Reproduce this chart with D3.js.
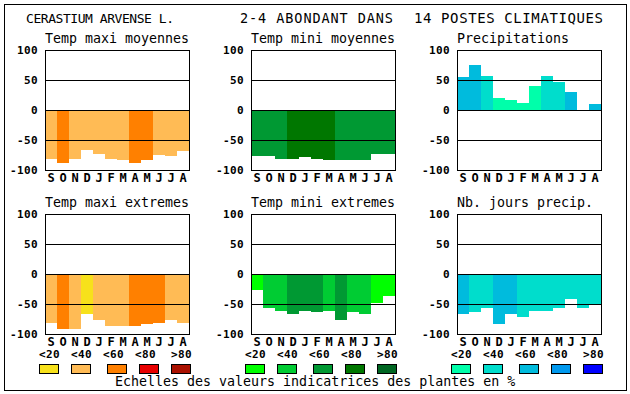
<!DOCTYPE html>
<html>
<head>
<meta charset="utf-8">
<script src="https://cdn.jsdelivr.net/npm/d3@7"></script>
<style>
  body { margin: 0; background: #fff; }
  svg { display: block; }
  text { font-family: "DejaVu Sans Mono", monospace; fill: #000; }
</style>
</head>
<body>
<div id="chart"></div>
<script>
// months and values (% of plants)
const months = ["S", "O", "N", "D", "J", "F", "M", "A", "M", "J", "J", "A"];

const maxiMoy = [-81, -88, -81, -67, -73, -81, -83, -88, -84, -75, -77, -68];
const maxiMoyClass = [1, 2, 1, 1, 1, 1, 1, 2, 2, 1, 1, 1];

const miniMoy = [-77, -77, -81, -81, -78, -81, -83, -84, -83, -83, -73, -73];
const miniMoyClass = [2, 2, 2, 3, 3, 3, 3, 2, 2, 2, 2, 2];

const precip = [55, 75, 57, 20, 17, 12, 40, 57, 47, 30, 0, 10];
const precipClass = [2, 2, 1, 0, 0, 0, 0, 1, 1, 2, 2, 2];

const maxiExt = [-82, -91, -92, -66, -76, -86, -87, -87, -84, -81, -76, -81];
const maxiExtClass = [1, 2, 1, 0, 1, 1, 1, 2, 2, 2, 1, 1];

const miniExt = [-27, -57, -61, -66, -62, -64, -61, -76, -64, -67, -49, -37];
const miniExtClass = [0, 1, 1, 2, 2, 2, 1, 2, 1, 1, 0, 0];

const nbJours = [-66, -64, -57, -84, -67, -72, -61, -61, -56, -42, -56, -51];
const nbJoursClass = [2, 1, 1, 2, 2, 1, 1, 1, 1, 1, 1, 1];

const yTicks = [100, 50, 0, -50, -100];
const gridLines = [50, 0, -50];
const classLabels = ["<20", "<40", "<60", "<80", ">80"];

// palettes
const orangeScale = ["#f7e11b", "#ffbb55", "#ff8000", "#e80000", "#aa1100"];
const greenScale = ["#00ff00", "#00cc33", "#009933", "#007700", "#006622"];
const blueScale = ["#00ffaa", "#00ddcc", "#00bbdd", "#0099ee", "#0000ff"];

const width = 630, height = 394;
const pw = 144, ph = 120;
const colX = [45, 251, 457];
const rowY = [50, 214];

const svg = d3.select("#chart").append("svg")
    .attr("width", width)
    .attr("height", height);

// outer frame
svg.append("rect")
    .attr("x", 4.5).attr("y", 4.5)
    .attr("width", 622).attr("height", 386)
    .attr("fill", "none").attr("stroke", "#000");

// title, three pieces stretched to the widths seen in the picture
const titleParts = [
    { t: "CERASTIUM ARVENSE L.", x: 26, w: 148, fs: 13 },
    { t: "2-4 ABONDANT DANS", x: 240, w: 153, fs: 13.5 },
    { t: "14 POSTES CLIMATIQUES", x: 414, w: 189, fs: 14 }
];
svg.selectAll("text.title")
    .data(titleParts)
    .join("text")
    .attr("class", "title")
    .attr("x", d => d.x).attr("y", 23)
    .attr("font-size", d => d.fs + "px")
    .attr("textLength", d => d.w)
    .attr("lengthAdjust", "spacing")
    .text(d => d.t);

const x = d3.scaleBand()
    .domain(d3.range(months.length))
    .range([0, pw])
    .padding(0);

const y = d3.scaleLinear()
    .domain([-100, 100])
    .range([ph, 0]);

function drawPanel(px, py, title, data, cls, palette) {
    const g = svg.append("g").attr("transform", `translate(${px},${py})`);

    g.append("text")
        .attr("x", 0).attr("y", -7)
        .attr("font-size", "13.3px")
        .text(title);

    g.selectAll("rect.bar")
        .data(data)
        .join("rect")
        .attr("class", "bar")
        .attr("x", (d, i) => x(i))
        .attr("width", x.bandwidth())
        .attr("y", d => Math.min(y(d), y(0)))
        .attr("height", d => Math.abs(y(d) - y(0)))
        .attr("fill", (d, i) => palette[cls[i]])
        .attr("shape-rendering", "crispEdges");

    g.selectAll("line.grid")
        .data(gridLines)
        .join("line")
        .attr("class", "grid")
        .attr("x1", 0).attr("x2", pw)
        .attr("y1", d => Math.round(y(d)) + 0.5)
        .attr("y2", d => Math.round(y(d)) + 0.5)
        .attr("stroke", "#000");

    g.append("rect")
        .attr("x", 0.5).attr("y", 0.5)
        .attr("width", pw).attr("height", ph)
        .attr("fill", "none").attr("stroke", "#000");

    g.append("g")
        .call(d3.axisLeft(y).tickValues(yTicks).tickSize(0).tickPadding(7)
            .tickFormat(d => String(d)))
        .call(a => a.select(".domain").remove())
        .call(a => a.selectAll(".tick text")
            .attr("font-family", "DejaVu Sans Mono, monospace")
            .attr("font-weight", "bold")
            .attr("font-size", "11px")
            .attr("letter-spacing", "0.4px")
            .attr("fill", "#000"));

    g.append("g")
        .attr("transform", `translate(0,${ph})`)
        .call(d3.axisBottom(x).tickSize(0).tickPadding(3)
            .tickFormat(i => months[i]))
        .call(a => a.select(".domain").remove())
        .call(a => a.selectAll(".tick text")
            .attr("font-family", "DejaVu Sans Mono, monospace")
            .attr("font-weight", "bold")
            .attr("font-size", "12px")
            .attr("fill", "#000"));
}

drawPanel(colX[0], rowY[0], "Temp maxi moyennes", maxiMoy, maxiMoyClass, orangeScale);
drawPanel(colX[1], rowY[0], "Temp mini moyennes", miniMoy, miniMoyClass, greenScale);
drawPanel(colX[2], rowY[0], "Precipitations", precip, precipClass, blueScale);
drawPanel(colX[0], rowY[1], "Temp maxi extremes", maxiExt, maxiExtClass, orangeScale);
drawPanel(colX[1], rowY[1], "Temp mini extremes", miniExt, miniExtClass, greenScale);
drawPanel(colX[2], rowY[1], "Nb. jours precip.", nbJours, nbJoursClass, blueScale);

// legend: class scales under each column
const boxOffset = [0, 32, 68, 100, 132];
const labelOffset = [0, 32, 64, 96, 132];
const palettes = [orangeScale, greenScale, blueScale];

palettes.forEach((pal, c) => {
    const lg = svg.append("g").attr("transform", `translate(${colX[c] - 6},0)`);
    lg.selectAll("text")
        .data(classLabels)
        .join("text")
        .attr("x", (d, i) => labelOffset[i])
        .attr("y", 358)
        .attr("font-size", "11px")
        .attr("font-weight", "bold")
        .attr("letter-spacing", "0.4px")
        .text(d => d);
    lg.selectAll("rect")
        .data(pal)
        .join("rect")
        .attr("x", (d, i) => boxOffset[i] + 0.5)
        .attr("y", 364.5)
        .attr("width", 19)
        .attr("height", 9)
        .attr("fill", d => d)
        .attr("stroke", "#000");
});

svg.append("text")
    .attr("x", 115).attr("y", 386)
    .attr("font-size", "13.3px")
    .text("Echelles des valeurs indicatrices des plantes en %");
</script>
</body>
</html>
